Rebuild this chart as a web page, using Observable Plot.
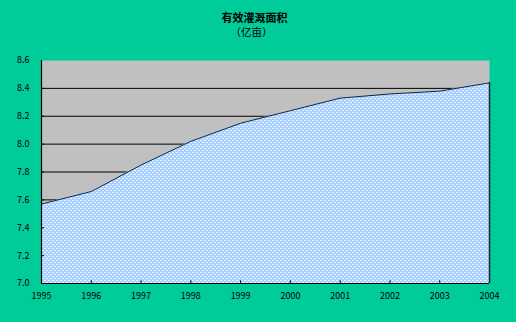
<!DOCTYPE html>
<html>
<head>
<meta charset="utf-8">
<script src="https://cdn.jsdelivr.net/npm/d3@7"></script>
<script src="https://cdn.jsdelivr.net/npm/@observablehq/plot@0.6"></script>
<style>
  html, body { margin: 0; padding: 0; background: #00CC99; }
  #chart { width: 516px; height: 322px; }
</style>
</head>
<body>
<div id="chart"></div>
<script>
// Effective irrigated area, 100 million mu
const years = [1995, 1996, 1997, 1998, 1999, 2000, 2001, 2002, 2003, 2004];
const area = [7.57, 7.66, 7.85, 8.02, 8.15, 8.24, 8.33, 8.36, 8.38, 8.44];
const yTicks = [7.0, 7.2, 7.4, 7.6, 7.8, 8.0, 8.2, 8.4, 8.6];
const gridLines = [7.2, 7.4, 7.6, 7.8, 8.0, 8.2, 8.4];
const titleText = "有效灌溉面积";
const unitText = "（亿亩）";

const data = years.map((year, i) => ({year, value: area[i]}));
const last = data[data.length - 1];

const font = "'Noto Sans CJK SC', 'DejaVu Sans', sans-serif";

const chart = Plot.plot({
  width: 516,
  height: 322,
  marginLeft: 41,
  marginRight: 27,
  marginTop: 60,
  marginBottom: 39,
  style: {background: "#00CC99", fontFamily: font, fontSize: "9px", color: "#000"},
  x: {domain: [1995, 2004]},
  y: {domain: [7.0, 8.6]},
  marks: [
    Plot.frame({fill: "#C0C0C0", stroke: null}),
    Plot.ruleY(gridLines, {stroke: "#000", strokeWidth: 1}),
    Plot.areaY(data, {x: "year", y: "value", y1: 7.0, fill: "url(#dots)"}),
    Plot.lineY(data, {x: "year", y: "value", stroke: "#10243a", strokeWidth: 1}),
    Plot.ruleX([last], {x: "year", y1: 7.0, y2: "value", stroke: "#10243a", strokeWidth: 1.5}),
    // inward tick marks
    Plot.ruleY(yTicks.slice(1, -1), {x1: 1995, x2: 1995.06, stroke: "#000"}),
    Plot.ruleX(years.slice(1, -1), {y1: 7.0, y2: 7.02, stroke: "#000"}),
    Plot.ruleX([1995], {y1: 7.0, y2: 8.6, stroke: "#000", strokeWidth: 1.2}),
    Plot.ruleY([7.0], {stroke: "#000", strokeWidth: 1.2}),
    Plot.axisY({ticks: yTicks, tickSize: 0, tickPadding: 12, tickFormat: d3.format(".1f"), label: null}),
    Plot.axisX({ticks: years, tickSize: 0, tickPadding: 9, tickFormat: d => String(d), label: null}),
    Plot.text([titleText], {frameAnchor: "top", lineAnchor: "middle", dy: -42, dx: -11, text: d => d, fontSize: 11, fontWeight: "bold", fill: "#000"}),
    Plot.text([unitText], {frameAnchor: "top", lineAnchor: "middle", dy: -28, dx: -14, text: d => d, fontSize: 10.5, fill: "#000"})
  ]
});

// dotted fill used by the area
const ns = "http://www.w3.org/2000/svg";
const defs = document.createElementNS(ns, "defs");
defs.innerHTML = `
  <pattern id="dots" width="4" height="4" patternUnits="userSpaceOnUse">
    <rect width="4" height="4" fill="#A8D0FF"></rect>
    <rect x="0" y="0" width="2" height="1" fill="#FFFFFF" opacity="0.8"></rect>
    <rect x="2" y="2" width="2" height="1" fill="#FFFFFF" opacity="0.8"></rect>
  </pattern>`;
chart.insertBefore(defs, chart.firstChild);

document.getElementById("chart").appendChild(chart);
</script>
</body>
</html>
